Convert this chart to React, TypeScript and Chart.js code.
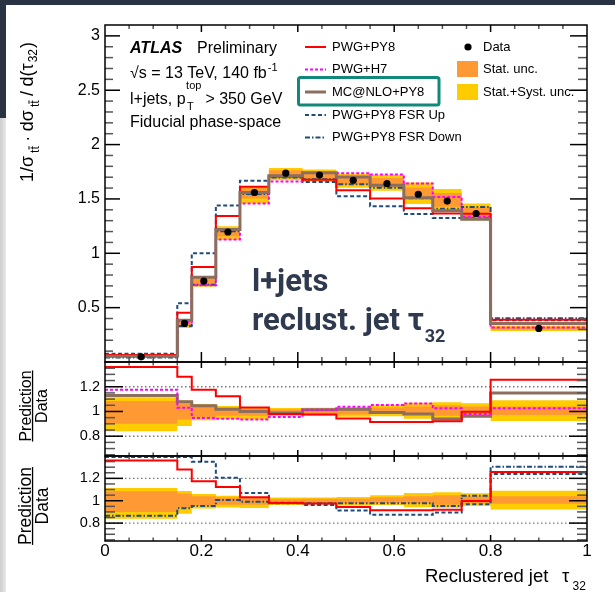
import React, { useEffect, useRef } from 'react';
import { Chart, registerables } from 'chart.js';

Chart.register(...registerables);

const FONT = '"Liberation Sans", Arial, Helvetica, sans-serif';

// ---------------- data ----------------
const binEdges = [0, 0.15, 0.18, 0.23, 0.28, 0.34, 0.41, 0.48, 0.55, 0.62, 0.68, 0.74, 0.8, 1.0];
const binCenters = [0.075, 0.165, 0.205, 0.255, 0.31, 0.375, 0.445, 0.515, 0.585, 0.65, 0.71, 0.77, 0.9];
const dataValues = [0.048, 0.355, 0.745, 1.196, 1.559, 1.737, 1.72, 1.672, 1.64, 1.543, 1.48, 1.366, 0.309];

// main panel predictions
const pwgPy8Values = [0.065, 0.454, 0.875, 1.343, 1.612, 1.706, 1.677, 1.58, 1.504, 1.415, 1.365, 1.363, 0.389];
const pwgH7Values = [0.056, 0.366, 0.706, 1.127, 1.458, 1.661, 1.742, 1.737, 1.725, 1.643, 1.518, 1.337, 0.317];
const mcAtNloValues = [0.054, 0.383, 0.78, 1.218, 1.559, 1.714, 1.742, 1.702, 1.627, 1.511, 1.391, 1.313, 0.355];
const fsrUpValues = [0.076, 0.54, 1.0, 1.44, 1.668, 1.706, 1.655, 1.525, 1.433, 1.362, 1.325, 1.322, 0.383];
const fsrDownValues = [0.042, 0.331, 0.71, 1.203, 1.545, 1.697, 1.68, 1.634, 1.602, 1.507, 1.41, 1.426, 0.403];

// ratio panels (prediction / data)
const ratioPwgPy8 = [1.36, 1.28, 1.175, 1.123, 1.032, 0.98, 0.976, 0.944, 0.915, 0.915, 0.92, 0.998, 1.257];
const ratioPwgH7 = [1.175, 1.031, 0.948, 0.942, 0.935, 0.956, 1.013, 1.039, 1.052, 1.065, 1.026, 0.979, 1.026];
const ratioMcAtNlo = [1.13, 1.078, 1.047, 1.018, 1.0, 0.987, 1.013, 1.018, 0.992, 0.979, 0.94, 0.961, 1.149];
const ratioFsrUp = [1.39, 1.39, 1.348, 1.205, 1.07, 0.982, 0.962, 0.912, 0.874, 0.874, 0.895, 0.968, 1.24];
const ratioFsrDown = [0.865, 0.933, 0.953, 1.006, 0.991, 0.977, 0.977, 0.977, 0.977, 0.977, 0.953, 1.044, 1.304];

// relative uncertainty bands
const statHi = [1.085, 1.065, 1.04, 1.03, 1.025, 1.015, 1.018, 1.018, 1.032, 1.04, 1.05, 1.04, 1.04];
const statLo = [0.9, 0.935, 0.955, 0.965, 0.965, 0.98, 0.98, 0.975, 0.98, 0.975, 0.965, 0.975, 0.972];
const totHi = [1.115, 1.088, 1.06, 1.045, 1.034, 1.028, 1.03, 1.034, 1.05, 1.07, 1.075, 1.067, 1.09];
const totLo = [0.84, 0.883, 0.93, 0.94, 0.935, 0.963, 0.966, 0.958, 0.961, 0.942, 0.937, 0.955, 0.922];

// tick labels
const xTickValues = [0, 0.2, 0.4, 0.6, 0.8, 1];
const mainYTickValues = [0.5, 1, 1.5, 2, 2.5, 3];
const ratioYTickValues = [0.8, 1, 1.2];

// ---------------- styles ----------------
const C = {
  red: '#ff0000',
  magenta: '#ff00ff',
  brown: '#8c6e5f',
  blue: '#1f4b7d',
  orange: '#ff9933',
  yellow: '#ffcc00',
  teal: '#12887a',
};

const range = (a: number, b: number, s: number) => {
  const out: number[] = [];
  for (let v = a; v <= b + 1e-9; v += s) out.push(Math.round(v * 1000) / 1000);
  return out;
};
const isMult = (v: number, m: number) => Math.abs(v / m - Math.round(v / m)) < 1e-6;

const steps = (values: number[]) =>
  binEdges.map((x, i) => ({ x, y: values[Math.min(i, values.length - 1)] }));
const times = (a: number[], b: number[]) => a.map((v, i) => v * b[i]);

function lineDs(values: number[], color: string, width: number, dash: number[], order: number) {
  return {
    data: steps(values),
    borderColor: color,
    borderWidth: width,
    borderDash: dash,
    borderCapStyle: 'butt',
    stepped: true,
    pointRadius: 0,
    fill: false,
    order,
  };
}

function pushBand(arr: any[], lo: number[], hi: number[], color: string, order: number) {
  arr.push({
    data: steps(lo), borderColor: 'transparent', borderWidth: 0, stepped: true,
    pointRadius: 0, fill: false, order,
  });
  arr.push({
    data: steps(hi), borderColor: 'transparent', borderWidth: 0, backgroundColor: color,
    stepped: true, pointRadius: 0, fill: '-1', order,
  });
}

// ---------------- text helpers ----------------
function txt(ctx: CanvasRenderingContext2D, s: string, x: number, y: number, font: string,
  align: CanvasTextAlign = 'left', baseline: CanvasTextBaseline = 'alphabetic', color = '#000') {
  ctx.font = font;
  ctx.textAlign = align;
  ctx.textBaseline = baseline;
  ctx.fillStyle = color;
  ctx.fillText(s, x, y);
  return ctx.measureText(s).width;
}

function drawFraction(ctx: CanvasRenderingContext2D, barX: number, cy: number, size: number) {
  ctx.save();
  ctx.translate(barX, cy);
  ctx.rotate(-Math.PI / 2);
  ctx.font = `${size}px ${FONT}`;
  ctx.fillStyle = '#000';
  ctx.textAlign = 'center';
  ctx.textBaseline = 'alphabetic';
  const w = ctx.measureText('Prediction').width;
  ctx.fillText('Prediction', 0, -1.3);
  ctx.fillRect(-w / 2, -0.6, w, 1.3);
  ctx.fillText('Data', 0, size * 0.716 + 2.6);
  ctx.restore();
}

function drawMainYTitle(ctx: CanvasRenderingContext2D) {
  ctx.save();
  ctx.translate(33, 0);
  ctx.rotate(-Math.PI / 2);
  ctx.fillStyle = '#000';
  ctx.textAlign = 'left';
  ctx.textBaseline = 'alphabetic';
  const main = `18px ${FONT}`;
  const sub = `12px ${FONT}`;
  let y = 182; // page y where text starts, going upward
  const put = (s: string, font: string, dy: number, gap: number) => {
    ctx.font = font;
    ctx.fillText(s, -y, dy);
    const w = ctx.measureText(s).width;
    const start = y;
    y -= w + gap;
    return { start, w };
  };
  const ttbar = () => {
    ctx.font = sub;
    const wt = ctx.measureText('t').width;
    const r = put('tt', sub, 6, 4.5);
    ctx.fillRect(-(r.start - wt), 6 - 10.5, wt, 1);
  };
  put('1/σ', main, 0, 3);
  ttbar();
  put('·', main, 0, 4.5);
  put('dσ', main, 0, 3);
  ttbar();
  put('/', main, 0, 4.5);
  put('d(τ', main, 0, 1);
  put('32', sub, 4, 1);
  put(')', main, 0, 0);
  ctx.restore();
}

function drawMainTexts(ctx: CanvasRenderingContext2D) {
  ctx.save();
  // ATLAS block
  txt(ctx, 'ATLAS', 130, 53, `italic bold 16px ${FONT}`);
  txt(ctx, 'Preliminary', 197, 53, `16px ${FONT}`);
  let w = txt(ctx, '√s = 13 TeV, 140 fb', 130, 78, `16px ${FONT}`);
  txt(ctx, '-1', 130 + w + 1, 71, `11px ${FONT}`);
  w = txt(ctx, 'l+jets, p', 130, 104, `16px ${FONT}`);
  const x0 = 130 + w + 0.5;
  const wt = txt(ctx, 'top', x0, 89, `11px ${FONT}`);
  txt(ctx, 'T', x0 + 1, 110, `11px ${FONT}`);
  txt(ctx, '> 350 GeV', x0 + wt + 4, 104, `16px ${FONT}`);
  txt(ctx, 'Fiducial phase-space', 130, 127, `16px ${FONT}`);

  // legend column 1
  const entries = [
    { label: 'PWG+PY8', color: C.red, w: 2, dash: [] as number[], y: 47 },
    { label: 'PWG+H7', color: C.magenta, w: 2, dash: [3, 2], y: 69.5 },
    { label: 'MC@NLO+PY8', color: C.brown, w: 3, dash: [] as number[], y: 92 },
    { label: 'PWG+PY8 FSR Up', color: C.blue, w: 2, dash: [4, 2.5], y: 115 },
    { label: 'PWG+PY8 FSR Down', color: C.blue, w: 2, dash: [5, 2, 1.5, 2], y: 137.5 },
  ];
  entries.forEach((e) => {
    ctx.save();
    ctx.strokeStyle = e.color;
    ctx.lineWidth = e.w;
    ctx.setLineDash(e.dash);
    ctx.beginPath();
    ctx.moveTo(305, e.y);
    ctx.lineTo(326, e.y);
    ctx.stroke();
    ctx.restore();
    txt(ctx, e.label, 332, e.y, `13px ${FONT}`, 'left', 'middle');
  });
  // teal highlight box
  ctx.save();
  ctx.strokeStyle = C.teal;
  ctx.lineWidth = 3;
  ctx.beginPath();
  (ctx as any).roundRect(298.5, 77.5, 140.5, 27.5, 2);
  ctx.stroke();
  ctx.restore();

  // legend column 2
  ctx.fillStyle = '#000';
  ctx.beginPath();
  ctx.arc(468, 47, 3.6, 0, Math.PI * 2);
  ctx.fill();
  txt(ctx, 'Data', 483, 47, `13px ${FONT}`, 'left', 'middle');
  ctx.fillStyle = C.orange;
  ctx.fillRect(457, 61, 21, 16);
  txt(ctx, 'Stat. unc.', 483, 69.5, `13px ${FONT}`, 'left', 'middle');
  ctx.fillStyle = C.yellow;
  ctx.fillRect(457, 84, 21, 16);
  txt(ctx, 'Stat.+Syst. unc.', 483, 92, `13px ${FONT}`, 'left', 'middle');

  // slide annotation
  const big = '700 31px Roboto, "Noto Sans", sans-serif';
  txt(ctx, 'l+jets', 252, 291, big, 'left', 'alphabetic', '#2f3a4f');
  const wb = txt(ctx, 'reclust. jet τ', 252, 330, big, 'left', 'alphabetic', '#2f3a4f');
  txt(ctx, '32', 252 + wb + 1, 342, '700 18px Roboto, "Noto Sans", sans-serif', 'left', 'alphabetic', '#2f3a4f');

  drawMainYTitle(ctx);
  ctx.restore();
}

// ---------------- frame / tick plugin ----------------
interface DecoCfg {
  yMajor: number[]; yMinor: number[];
  xMajor: number[]; xMinor: number[];
  yL: [number, number]; yR: [number, number];
  xT: [number, number]; xB: [number, number];
  dotted?: number[];
  texts?: (ctx: CanvasRenderingContext2D) => void;
}

function makeDeco(cfg: DecoCfg) {
  const seg = (ctx: CanvasRenderingContext2D, x1: number, y1: number, x2: number, y2: number) => {
    ctx.beginPath();
    ctx.moveTo(x1, y1);
    ctx.lineTo(x2, y2);
    ctx.stroke();
  };
  return {
    id: 'rootDeco',
    beforeDatasetsDraw(chart: any) {
      if (!cfg.dotted) return;
      const { ctx, chartArea: a, scales } = chart;
      ctx.save();
      ctx.strokeStyle = '#7a7a7a';
      ctx.lineWidth = 1.4;
      ctx.setLineDash([1.5, 2.5]);
      cfg.dotted.forEach((v) => {
        const py = scales.y.getPixelForValue(v);
        seg(ctx, a.left, py, a.right, py);
      });
      ctx.restore();
    },
    afterDatasetsDraw(chart: any) {
      const { ctx, chartArea: a, scales } = chart;
      const xs = scales.x;
      const ys = scales.y;
      ctx.save();
      ctx.lineWidth = 1.5;
      const drawSet = (ys_: number[], xs_: number[], major: boolean) => {
        const i = major ? 0 : 1;
        ys_.forEach((v) => {
          const py = ys.getPixelForValue(v);
          if (py < a.top + 1 || py > a.bottom - 1) return;
          seg(ctx, a.left, py, a.left + cfg.yL[i], py);
          seg(ctx, a.right, py, a.right - cfg.yR[i], py);
        });
        xs_.forEach((v) => {
          const px = xs.getPixelForValue(v);
          if (px < a.left + 1 || px > a.right - 1) return;
          seg(ctx, px, a.top, px, a.top + cfg.xT[i]);
          seg(ctx, px, a.bottom, px, a.bottom - cfg.xB[i]);
        });
      };
      ctx.strokeStyle = '#555';
      drawSet(cfg.yMinor, cfg.xMinor, false);
      ctx.strokeStyle = '#000';
      drawSet(cfg.yMajor, cfg.xMajor, true);
      ctx.strokeRect(a.left, a.top, a.right - a.left, a.bottom - a.top);
      ctx.restore();
    },
    afterDraw(chart: any) {
      if (cfg.texts) {
        chart.ctx.save();
        cfg.texts(chart.ctx);
        chart.ctx.restore();
      }
    },
  };
}

// ---------------- chart factory ----------------
interface PanelCfg {
  top: number; bottom: number; yMin: number; yMax: number;
  yTicks: number[]; yFont: number; showX: boolean; datasets: any[]; deco: any;
}

function makeChart(canvas: HTMLCanvasElement, cfg: PanelCfg) {
  return new Chart(canvas, {
    type: 'line',
    data: { datasets: cfg.datasets },
    options: {
      responsive: false,
      maintainAspectRatio: false,
      animation: false,
      devicePixelRatio: 1,
      events: [],
      layout: { padding: { left: 0, right: 28, top: cfg.top, bottom: cfg.showX ? 0 : 592 - cfg.bottom } },
      plugins: { legend: { display: false }, tooltip: { enabled: false } },
      scales: {
        x: {
          type: 'linear', min: 0, max: 1, display: cfg.showX,
          grid: { display: false, drawTicks: false }, border: { display: false },
          afterBuildTicks: (s: any) => { s.ticks = xTickValues.map((v) => ({ value: v })); },
          afterFit: (s: any) => { if (cfg.showX) s.height = 592 - cfg.bottom; },
          ticks: {
            autoSkip: false, maxRotation: 0, minRotation: 0, padding: 0, color: '#000',
            font: { family: FONT, size: 17 }, callback: (v: any) => String(v),
          },
        },
        y: {
          type: 'linear', min: cfg.yMin, max: cfg.yMax,
          grid: { display: false, drawTicks: false }, border: { display: false },
          afterBuildTicks: (s: any) => { s.ticks = cfg.yTicks.map((v) => ({ value: v })); },
          afterFit: (s: any) => { s.width = 105; },
          ticks: {
            padding: 5, color: '#000', font: { family: FONT, size: cfg.yFont },
            callback: (v: any) => String(v),
          },
        },
      },
    } as any,
    plugins: [cfg.deco],
  } as any);
}

const xMinorTicks = range(0, 1, 0.05).filter((v) => !isMult(v, 0.2));
const ratioMinor = range(0.65, 1.4, 0.05).filter((v) => !isMult(v, 0.2));
const ratioMajor = [0.8, 1, 1.2];

export default function App() {
  const mainRef = useRef<HTMLCanvasElement>(null);
  const r1Ref = useRef<HTMLCanvasElement>(null);
  const r2Ref = useRef<HTMLCanvasElement>(null);

  useEffect(() => {
    // main panel
    const mainDs: any[] = [];
    mainDs.push({
      data: binCenters.map((x, i) => ({ x, y: dataValues[i] })),
      showLine: false, pointRadius: 3.6, pointBackgroundColor: '#000', pointBorderColor: '#000',
      pointBorderWidth: 0, borderColor: '#000', order: 0,
    });
    mainDs.push(lineDs(mcAtNloValues, C.brown, 3, [], 1));
    mainDs.push(lineDs(pwgPy8Values, C.red, 2, [], 2));
    mainDs.push(lineDs(pwgH7Values, C.magenta, 2, [3, 2], 3));
    mainDs.push(lineDs(fsrDownValues, C.blue, 2, [5, 2, 1.5, 2], 4));
    mainDs.push(lineDs(fsrUpValues, C.blue, 2, [4, 2.5], 5));
    pushBand(mainDs, times(dataValues, statLo), times(dataValues, statHi), C.orange, 8);
    pushBand(mainDs, times(dataValues, totLo), times(dataValues, totHi), C.yellow, 9);

    const r1Ds: any[] = [];
    r1Ds.push(lineDs(ratioPwgPy8, C.red, 2, [], 1));
    r1Ds.push(lineDs(ratioPwgH7, C.magenta, 2, [3, 2], 2));
    r1Ds.push(lineDs(ratioMcAtNlo, C.brown, 3, [], 3));
    pushBand(r1Ds, statLo, statHi, C.orange, 8);
    pushBand(r1Ds, totLo, totHi, C.yellow, 9);

    const r2Ds: any[] = [];
    r2Ds.push(lineDs(ratioPwgPy8, C.red, 2, [], 1));
    r2Ds.push(lineDs(ratioFsrUp, C.blue, 2, [4, 2.5], 2));
    r2Ds.push(lineDs(ratioFsrDown, C.blue, 2, [5, 2, 1.5, 2], 3));
    pushBand(r2Ds, statLo, statHi, C.orange, 8);
    pushBand(r2Ds, totLo, totHi, C.yellow, 9);

    const charts = [
      makeChart(mainRef.current!, {
        top: 25, bottom: 362, yMin: 0, yMax: 3.1, yTicks: mainYTickValues, yFont: 16, showX: false,
        datasets: mainDs,
        deco: makeDeco({
          yMajor: range(0, 3, 0.5), yMinor: range(0.1, 3.1, 0.1).filter((v) => !isMult(v, 0.5)),
          xMajor: xTickValues, xMinor: xMinorTicks,
          yL: [15, 8], yR: [17, 9], xT: [7, 4], xB: [10, 5],
          texts: drawMainTexts,
        }),
      }),
      makeChart(r1Ref.current!, {
        top: 362, bottom: 456, yMin: 0.64, yMax: 1.4, yTicks: ratioYTickValues, yFont: 14.5, showX: false,
        datasets: r1Ds,
        deco: makeDeco({
          yMajor: ratioMajor, yMinor: ratioMinor, xMajor: xTickValues, xMinor: xMinorTicks,
          yL: [18, 10], yR: [18, 10], xT: [6, 3.5], xB: [6, 3.5], dotted: [0.8, 1.2],
          texts: (ctx) => drawFraction(ctx, 32.5, 406, 16),
        }),
      }),
      makeChart(r2Ref.current!, {
        top: 456, bottom: 541, yMin: 0.64, yMax: 1.4, yTicks: ratioYTickValues, yFont: 14.5, showX: true,
        datasets: r2Ds,
        deco: makeDeco({
          yMajor: ratioMajor, yMinor: ratioMinor, xMajor: xTickValues, xMinor: xMinorTicks,
          yL: [18, 10], yR: [18, 10], xT: [6, 3.5], xB: [6, 3.5], dotted: [0.8, 1.2],
          texts: (ctx) => {
            drawFraction(ctx, 32.5, 506, 17.5);
            txt(ctx, 'Reclustered jet', 425, 582, `18.5px ${FONT}`);
            txt(ctx, 'τ', 562, 582, `18.5px ${FONT}`);
            txt(ctx, '32', 572.5, 590, `12px ${FONT}`);
          },
        }),
      }),
    ];
    return () => charts.forEach((c) => c.destroy());
  }, []);

  const cv: React.CSSProperties = { position: 'absolute', left: 0, top: 0, width: 615, height: 592 };
  return (
    <div style={{ position: 'fixed', left: 0, top: 0, width: 615, height: 592, background: '#fff', overflow: 'hidden' }}>
      <div style={{ position: 'absolute', left: 0, top: 0, width: 615, height: 5, background: '#2a3344' }} />
      <div style={{ position: 'absolute', left: 0, top: 0, width: 6, height: 118, background: '#2a3344' }} />
      <div style={{ position: 'absolute', left: 0, top: 118, width: 6, height: 474, background: 'linear-gradient(to right, #cdcdcd, #e9e9e9)' }} />
      <canvas ref={mainRef} width={615} height={592} style={cv} />
      <canvas ref={r1Ref} width={615} height={592} style={cv} />
      <canvas ref={r2Ref} width={615} height={592} style={cv} />
    </div>
  );
}
